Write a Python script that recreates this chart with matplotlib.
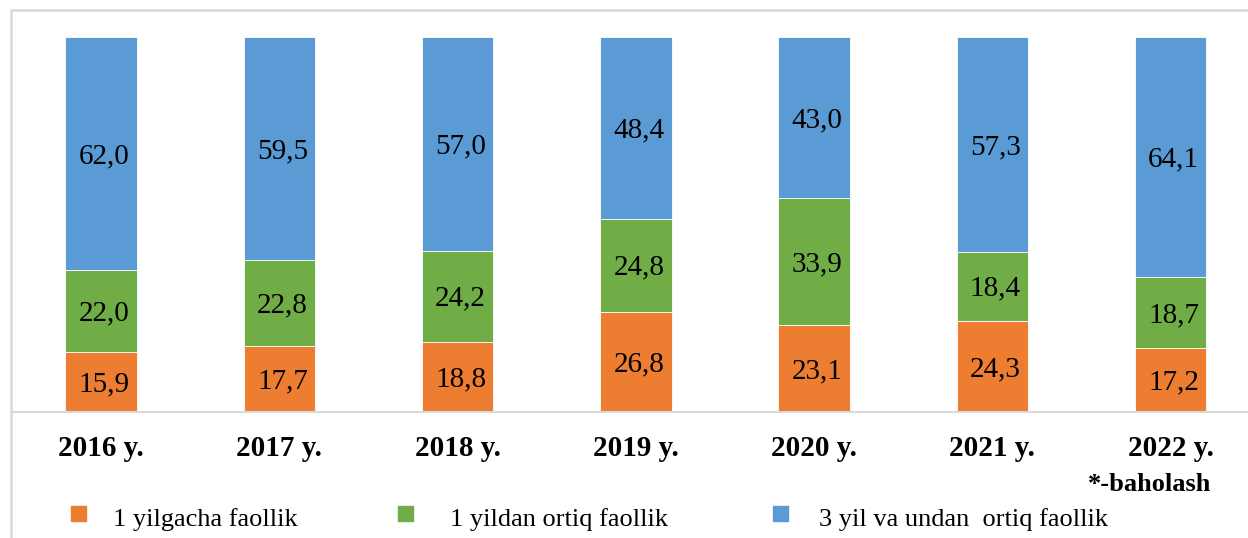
import matplotlib.pyplot as plt
import matplotlib.transforms as mtransforms
from matplotlib.patches import Rectangle
import numpy as np

plt.rcParams['font.family'] = ['Liberation Serif', 'DejaVu Serif']

# Ma'lumotlar
yillar = ['2016 y.', '2017 y.', '2018 y.', '2019 y.', '2020 y.', '2021 y.', '2022 y.']
bir_yilgacha = [15.9, 17.7, 18.8, 26.8, 23.1, 24.3, 17.2]
bir_yildan = [22.0, 22.8, 24.2, 24.8, 33.9, 18.4, 18.7]
uch_yil = [62.0, 59.5, 57.0, 48.4, 43.0, 57.3, 64.1]
seriya_nomlari = ['1 yilgacha faollik', '1 yildan ortiq faollik', '3 yil va undan  ortiq faollik']

ranglar = ['#ED7D31', '#70AD47', '#5B9BD5']

W, H = 1248, 538
fig = plt.figure(figsize=(W / 100, H / 100), dpi=100)

# chart frame (cropped on right and bottom)
fig.patches.append(Rectangle((11 / W, -0.1), 1.2, (H - 10) / H + 0.1,
                             transform=fig.transFigure, fill=False,
                             edgecolor='#d9d9d9', linewidth=1.8, zorder=0))

ax = fig.add_axes([12 / W, (H - 412) / H, (W - 12) / W, (412 - 10) / H])
ax.patch.set_alpha(0)

# value labels a bit right and down, as in the original
siljish = ax.transData + mtransforms.ScaledTranslation(0.03, -0.025, fig.dpi_scale_trans)

x = np.arange(len(yillar))
seriyalar = [bir_yilgacha, bir_yildan, uch_yil]
pastki = np.zeros(len(yillar))
for vals, col in zip(seriyalar, ranglar):
    vals = np.array(vals)
    ax.bar(x, vals, bottom=pastki, width=0.40, color=col,
           edgecolor='white', linewidth=0.6, zorder=2)
    for xi, b, v in zip(x, pastki, vals):
        ax.text(xi, b + v / 2, f'{v:.1f}'.replace('.', ','), ha='center',
                va='center', fontsize=21, color='black', zorder=3,
                transform=siljish)
    pastki = pastki + vals

ax.set_xlim(-0.5, -0.5 + (W - 12) / 178.25)
ax.set_ylim(0, 100 * 402 / 375)
for s in ['top', 'right', 'left']:
    ax.spines[s].set_visible(False)
ax.spines['bottom'].set_color('#d9d9d9')
ax.spines['bottom'].set_linewidth(1.5)
ax.set_yticks([])
ax.set_xticks([])

# x labels
tr = mtransforms.blended_transform_factory(ax.transData, fig.transFigure)
for xi, lab in zip(x, yillar):
    ax.text(xi, (H - 456) / H, lab, transform=tr, ha='center', va='baseline',
            fontsize=21, fontweight='bold')
ax.text(5.88, (H - 491) / H, '*-baholash', transform=tr, ha='center',
        va='baseline', fontsize=19, fontweight='bold')

# legend
kv_x = [71, 398, 773]
matn_x = [113, 450, 819]
for kx, mx, col, nom in zip(kv_x, matn_x, ranglar, seriya_nomlari):
    fig.patches.append(Rectangle((kx / W, (H - 521) / H), 15 / W, 15 / H,
                                 transform=fig.transFigure, color=col))
    fig.text(mx / W, (H - 526) / H, nom, ha='left', va='baseline', fontsize=19)

fig.savefig('out.png', dpi=100)
